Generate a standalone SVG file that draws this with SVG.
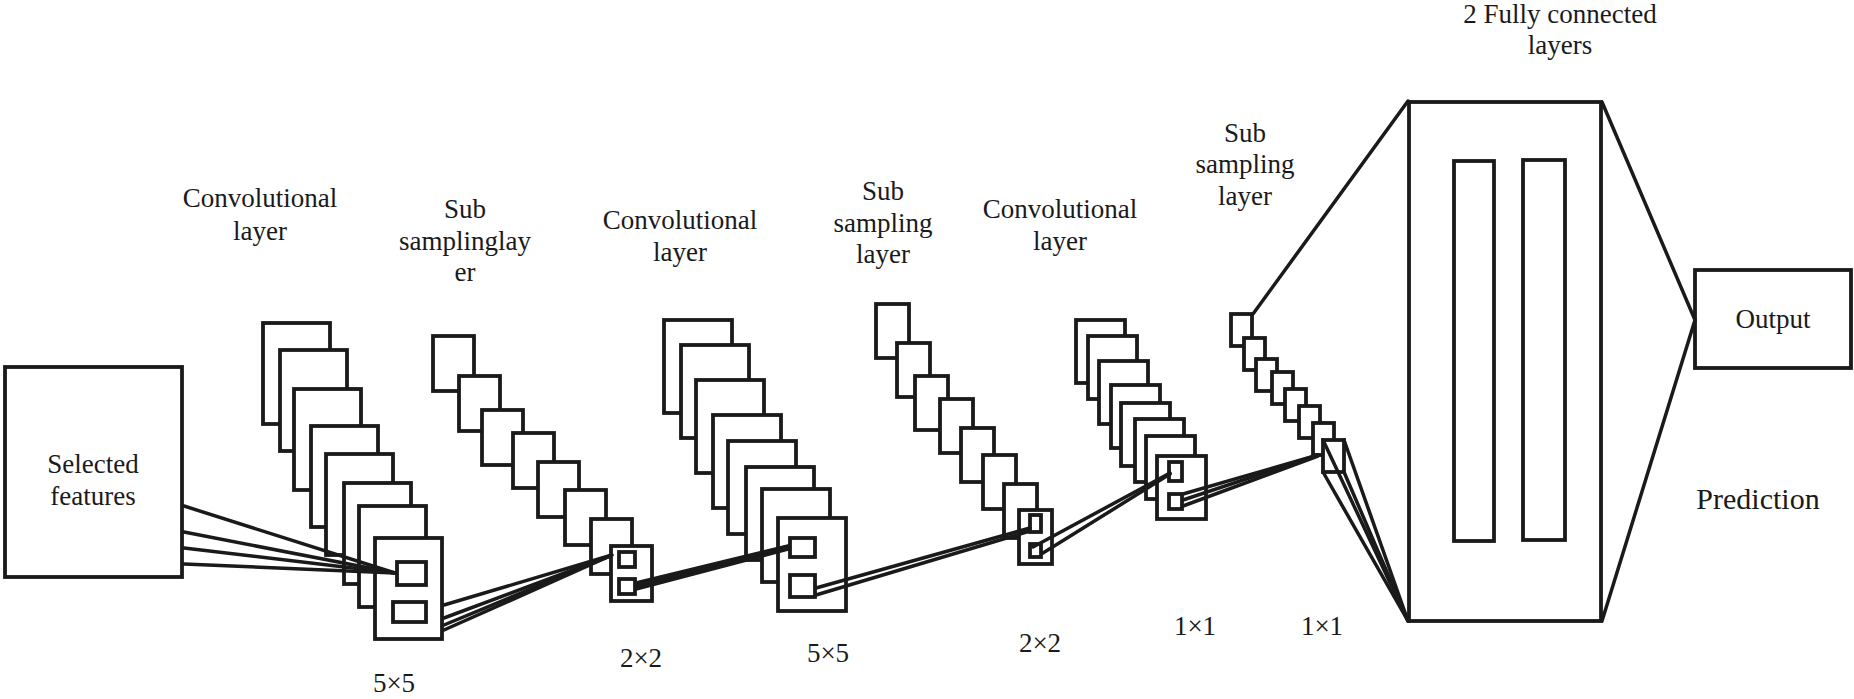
<svg xmlns="http://www.w3.org/2000/svg" width="1854" height="699" viewBox="0 0 1854 699" font-family="'Liberation Serif', 'Times New Roman', serif">
<style>
.b{fill:#fff;stroke:#1a1a1a;stroke-width:3.8}
.c{stroke:#1a1a1a;stroke-width:3.5;fill:none;stroke-linecap:round}
text{font-family:'Liberation Serif','Times New Roman',serif;font-size:27px;fill:#1a1a1a;text-anchor:middle}
</style>
<rect width="1854" height="699" fill="#fff"/>
<g id="input">
<rect class="b" x="5" y="367" width="177" height="210"/>
<text x="93" y="473">Selected</text>
<text x="93" y="505">features</text>
</g>
<g id="conv1">
<rect class="b" x="263" y="323" width="67" height="101"/>
<rect class="b" x="280" y="350" width="67" height="101"/>
<rect class="b" x="294" y="389" width="67" height="101"/>
<rect class="b" x="311" y="426" width="67" height="101"/>
<rect class="b" x="326" y="454" width="67" height="101"/>
<rect class="b" x="344" y="483" width="67" height="101"/>
<rect class="b" x="359" y="506" width="67" height="101"/>
<rect class="b" x="375" y="538" width="67" height="101"/>
<rect class="b" x="397" y="562" width="29" height="23"/>
<rect class="b" x="393" y="602" width="33" height="20"/>
<text x="260" y="207">Convolutional</text>
<text x="260" y="240">layer</text>
<text x="394" y="692">5×5</text>
</g>
<g id="sub1">
<rect class="b" x="433" y="336" width="41" height="55"/>
<rect class="b" x="459" y="376" width="41" height="55"/>
<rect class="b" x="482" y="410" width="41" height="55"/>
<rect class="b" x="513" y="433" width="41" height="55"/>
<rect class="b" x="538" y="462" width="41" height="55"/>
<rect class="b" x="565" y="490" width="41" height="55"/>
<rect class="b" x="591" y="519" width="41" height="55"/>
<rect class="b" x="611" y="546" width="41" height="55"/>
<rect class="b" x="619" y="552" width="16" height="15"/>
<rect class="b" x="619" y="579" width="16" height="15"/>
<text x="465" y="218">Sub</text>
<text x="465" y="250">samplinglay</text>
<text x="465" y="281">er</text>
<text x="641" y="667">2×2</text>
</g>
<g id="conv2">
<rect class="b" x="664" y="320" width="68" height="93"/>
<rect class="b" x="681" y="345" width="68" height="93"/>
<rect class="b" x="696" y="380" width="68" height="93"/>
<rect class="b" x="713" y="415" width="68" height="93"/>
<rect class="b" x="728" y="441" width="68" height="93"/>
<rect class="b" x="746" y="467" width="68" height="93"/>
<rect class="b" x="762" y="489" width="68" height="93"/>
<rect class="b" x="778" y="518" width="68" height="93"/>
<rect class="b" x="790" y="538" width="25" height="19"/>
<rect class="b" x="790" y="575" width="25" height="22"/>
<text x="680" y="229">Convolutional</text>
<text x="680" y="261">layer</text>
<text x="828" y="662">5×5</text>
</g>
<g id="sub2">
<rect class="b" x="876" y="304" width="33" height="54"/>
<rect class="b" x="897" y="343" width="33" height="54"/>
<rect class="b" x="915" y="376" width="33" height="54"/>
<rect class="b" x="940" y="399" width="33" height="54"/>
<rect class="b" x="961" y="428" width="33" height="54"/>
<rect class="b" x="983" y="455" width="33" height="54"/>
<rect class="b" x="1004" y="484" width="33" height="54"/>
<rect class="b" x="1019" y="510" width="33" height="54"/>
<rect class="b" x="1030" y="515" width="11" height="17"/>
<rect class="b" x="1030" y="544" width="11" height="13"/>
<text x="883" y="200">Sub</text>
<text x="883" y="232">sampling</text>
<text x="883" y="263">layer</text>
<text x="1040" y="652">2×2</text>
</g>
<g id="conv3">
<rect class="b" x="1076" y="320" width="49" height="63"/>
<rect class="b" x="1088" y="336" width="49" height="63"/>
<rect class="b" x="1099" y="361" width="49" height="63"/>
<rect class="b" x="1111" y="385" width="49" height="63"/>
<rect class="b" x="1121" y="403" width="49" height="63"/>
<rect class="b" x="1135" y="419" width="49" height="63"/>
<rect class="b" x="1146" y="436" width="49" height="63"/>
<rect class="b" x="1157" y="456" width="49" height="63"/>
<rect class="b" x="1169" y="462" width="13" height="19"/>
<rect class="b" x="1169" y="494" width="13" height="15"/>
<text x="1060" y="218">Convolutional</text>
<text x="1060" y="250">layer</text>
<text x="1195" y="635">1×1</text>
</g>
<g id="sub3">
<rect class="b" x="1231" y="314" width="21" height="32"/>
<rect class="b" x="1244" y="338" width="21" height="32"/>
<rect class="b" x="1256" y="359" width="21" height="32"/>
<rect class="b" x="1272" y="372" width="21" height="32"/>
<rect class="b" x="1285" y="389" width="21" height="32"/>
<rect class="b" x="1299" y="406" width="21" height="32"/>
<rect class="b" x="1313" y="423" width="21" height="32"/>
<rect class="b" x="1323" y="440" width="21" height="32"/>
<text x="1245" y="142">Sub</text>
<text x="1245" y="173">sampling</text>
<text x="1245" y="205">layer</text>
<text x="1322" y="635">1×1</text>
</g>
<g id="fc">
<rect class="b" x="1409" y="102" width="192" height="519"/>
<rect class="b" x="1454" y="161" width="40" height="380"/>
<rect class="b" x="1523" y="160" width="42" height="380"/>
<text x="1560" y="23">2 Fully connected</text>
<text x="1560" y="54">layers</text>
</g>
<g id="output">
<rect class="b" x="1695" y="270" width="156" height="98"/>
<text x="1773" y="328">Output</text>
<text x="1758" y="509" style="font-size:30px">Prediction</text>
</g>
<g id="connectors">
<line class="c" x1="184" y1="506" x2="395" y2="573"/>
<line class="c" x1="184" y1="532" x2="395" y2="573"/>
<line class="c" x1="184" y1="548" x2="395" y2="573"/>
<line class="c" x1="184" y1="564" x2="395" y2="573"/>
<line class="c" x1="444" y1="605" x2="612" y2="555"/>
<line class="c" x1="444" y1="618" x2="610" y2="556"/>
<line class="c" x1="444" y1="625" x2="610" y2="556"/>
<line class="c" x1="444" y1="630" x2="610" y2="556"/>
<line class="c" x1="636" y1="583" x2="788" y2="546"/>
<line class="c" x1="636" y1="586" x2="788" y2="548"/>
<line class="c" x1="636" y1="589" x2="788" y2="549"/>
<line class="c" x1="816" y1="588" x2="1030" y2="528"/>
<line class="c" x1="816" y1="595" x2="1030" y2="531"/>
<line class="c" x1="1033" y1="547" x2="1170" y2="473"/>
<line class="c" x1="1043" y1="553" x2="1170" y2="474"/>
<line class="c" x1="1183" y1="494" x2="1318" y2="455"/>
<line class="c" x1="1183" y1="500" x2="1318" y2="455"/>
<line class="c" x1="1183" y1="506" x2="1318" y2="456"/>
<line class="c" x1="1253" y1="314" x2="1408" y2="101"/>
<line class="c" x1="1323" y1="440" x2="1408" y2="621"/>
<line class="c" x1="1344" y1="440" x2="1408" y2="621"/>
<line class="c" x1="1323" y1="472" x2="1408" y2="621"/>
<line class="c" x1="1344" y1="472" x2="1408" y2="621"/>
<line class="c" x1="1602" y1="102" x2="1695" y2="320"/>
<line class="c" x1="1602" y1="621" x2="1695" y2="320"/>
</g>
</svg>
